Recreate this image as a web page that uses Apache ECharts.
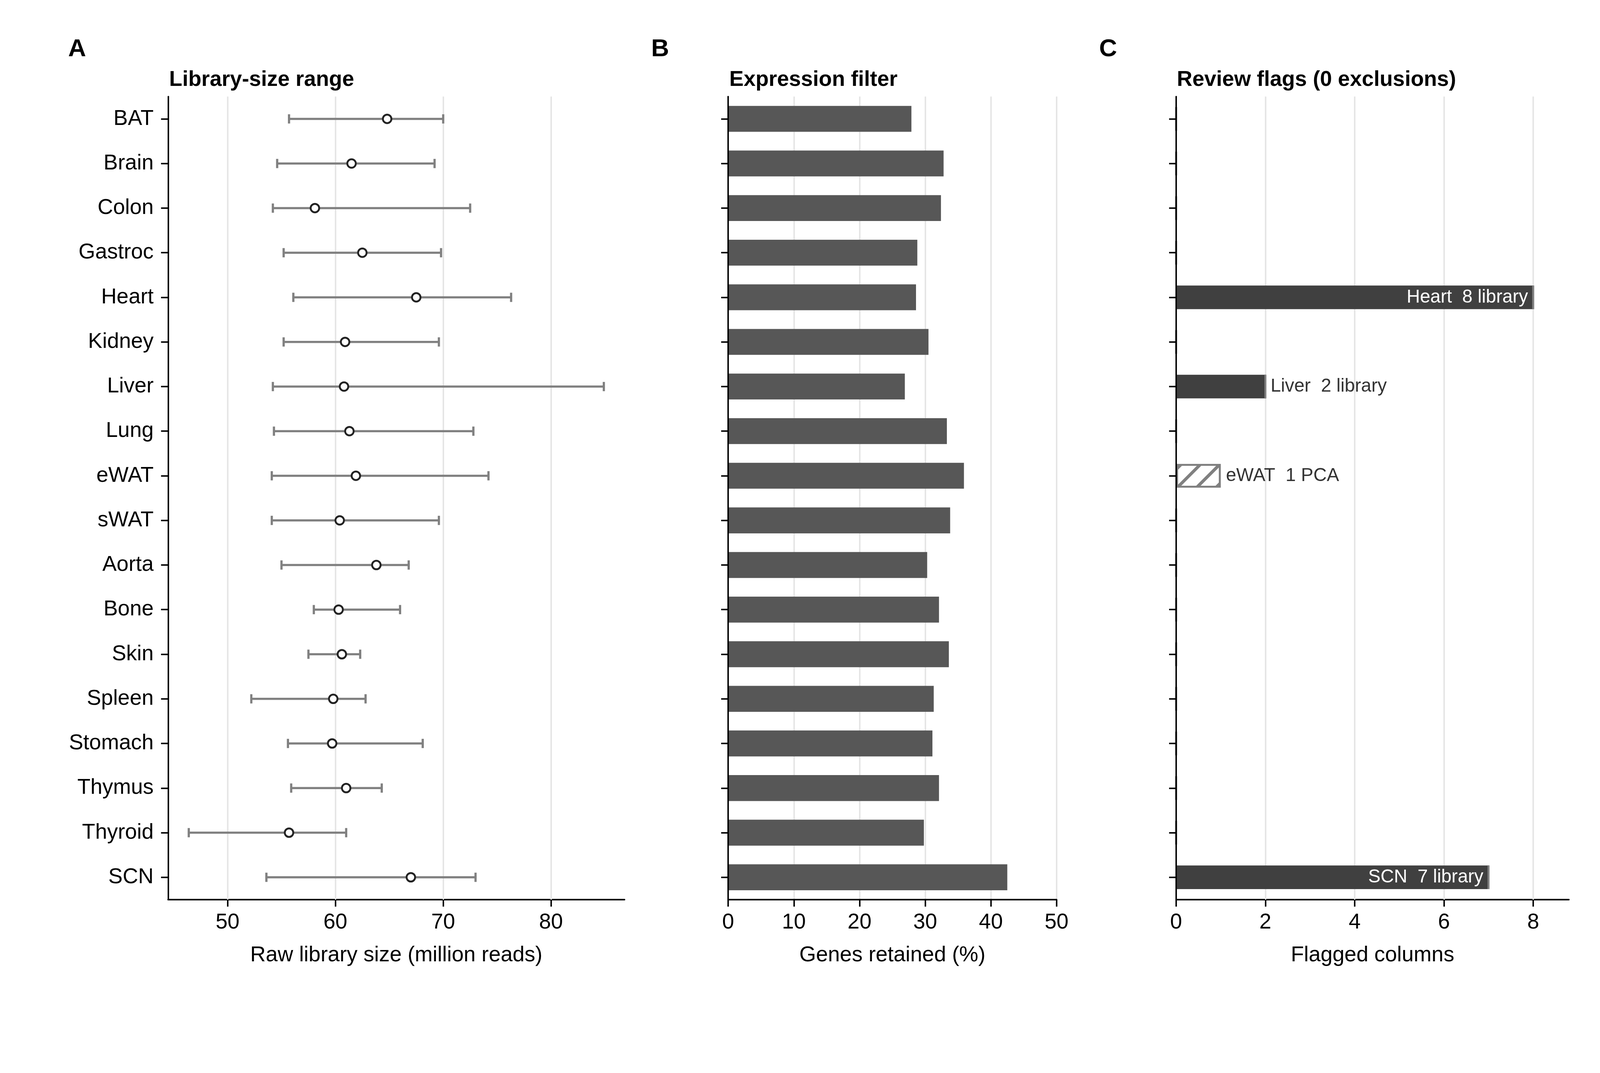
<!DOCTYPE html>
<html>
<head>
<meta charset="utf-8">
<title>Tissue QC summary</title>
<script src="https://cdn.jsdelivr.net/npm/echarts@6/dist/echarts.min.js"></script>
<style>
    html, body { margin: 0; padding: 0; background: #fff; overflow: hidden; }
    #chart { width: 100vw; height: 100vh; }
</style>
</head>
<body>
<div id="chart"></div>
<script>
var tissues = ['BAT', 'Brain', 'Colon', 'Gastroc', 'Heart', 'Kidney', 'Liver', 'Lung', 'eWAT',
    'sWAT', 'Aorta', 'Bone', 'Skin', 'Spleen', 'Stomach', 'Thymus', 'Thyroid', 'SCN'];

// library size, million reads (min / median / max)
var libLow  = [55.7, 54.6, 54.2, 55.2, 56.1, 55.2, 54.2, 54.3, 54.1, 54.1, 55.0, 58.0, 57.5, 52.2, 55.6, 55.9, 46.4, 53.6];
var libMid  = [64.8, 61.5, 58.1, 62.5, 67.5, 60.9, 60.8, 61.3, 61.9, 60.4, 63.8, 60.3, 60.6, 59.8, 59.7, 61.0, 55.7, 67.0];
var libHigh = [70.0, 69.2, 72.5, 69.8, 76.3, 69.6, 84.9, 72.8, 74.2, 69.6, 66.8, 66.0, 62.3, 62.8, 68.1, 64.3, 61.0, 73.0];

// % genes kept after expression filter
var genesRetained = [27.9, 32.8, 32.4, 28.8, 28.6, 30.5, 26.9, 33.3, 35.9, 33.8, 30.3, 32.1, 33.6, 31.3, 31.1, 32.1, 29.8, 42.5];

// flagged columns per tissue
var libraryFlags = [0, 0, 0, 0, 8, 0, 2, 0, 0, 0, 0, 0, 0, 0, 0, 0, 0, 7];
var pcaFlags     = [0, 0, 0, 0, 0, 0, 0, 0, 1, 0, 0, 0, 0, 0, 0, 0, 0, 0];

var ticksA = [50, 60, 70, 80];
var ticksC = [0, 2, 4, 6, 8];

document.addEventListener("DOMContentLoaded", function () {

    var FONT = 'Liberation Sans';
    // layout was measured on a 4322 px wide figure; scale to the real viewport
    var S = Math.min(window.innerWidth / 4322, window.innerHeight / 2748);
    function P(v) { return v * S; }

    var TOP = 261, HEIGHT = 2170;
    var GRID_COLOR = '#e5e5e5';

    var chart = echarts.init(document.getElementById('chart'));

    function flagLabel(v, i, kind) {
        if (!v) return v;
        var inside = v >= 4;
        return {
            value: v,
            label: {
                show: true,
                position: inside ? 'insideRight' : 'right',
                distance: P(14),
                color: inside ? '#fff' : '#333',
                fontSize: P(50),
                fontFamily: FONT,
                formatter: tissues[i] + '  ' + v + ' ' + kind
            }
        };
    }

    function gridLines(values) {
        return {
            silent: true,
            z: 1,
            symbol: 'none',
            label: { show: false },
            emphasis: { disabled: true },
            lineStyle: { color: GRID_COLOR, width: P(4), type: 'solid' },
            data: values.map(function (v) { return { xAxis: v }; })
        };
    }

    function catAxis(idx, showLabels) {
        return {
            type: 'category',
            gridIndex: idx,
            data: tissues,
            inverse: true,
            z: 5,
            axisLine: { show: true, lineStyle: { color: '#000', width: P(4) } },
            axisTick: { show: true, alignWithLabel: true, length: P(19), lineStyle: { color: '#000', width: P(4) } },
            axisLabel: { show: showLabels, fontSize: P(58), color: '#000', margin: P(39), fontFamily: FONT },
            splitLine: { show: false }
        };
    }

    function valAxis(idx, name, ticks, extra) {
        var tick = { show: true, length: P(19), lineStyle: { color: '#000', width: P(4) } };
        var label = { fontSize: P(58), color: '#000', margin: P(33), fontFamily: FONT };
        if (ticks) {
            tick.customValues = ticks;
            label.customValues = ticks;
        }
        return Object.assign({
            type: 'value',
            gridIndex: idx,
            name: name,
            axisLine: { show: true, onZero: false, lineStyle: { color: '#000', width: P(4) } },
            axisTick: tick,
            axisLabel: label,
            nameLocation: 'middle',
            nameGap: P(122),
            nameTextStyle: { fontSize: P(58), color: '#000', fontFamily: FONT }
        }, extra);
    }

    function heading(text, left, top, size) {
        return {
            text: text, left: P(left), top: P(top), padding: 0,
            textStyle: { fontSize: P(size), fontWeight: 'bold', color: '#000', fontFamily: FONT }
        };
    }

    var option = {
        animation: false,
        backgroundColor: '#fff',
        textStyle: { fontFamily: FONT },
        title: [
            heading('A', 184, 100, 67),
            heading('B', 1759, 100, 67),
            heading('C', 2969, 100, 67),
            heading('Library-size range', 457, 187, 58),
            heading('Expression filter', 1970, 187, 58),
            heading('Review flags (0 exclusions)', 3179, 187, 58)
        ],
        grid: [
            { left: P(454), top: P(TOP), width: P(1233), height: P(HEIGHT) },
            { left: P(1967), top: P(TOP), width: P(887), height: P(HEIGHT) },
            { left: P(3177), top: P(TOP), width: P(1061), height: P(HEIGHT) }
        ],
        xAxis: [
            valAxis(0, 'Raw library size (million reads)', ticksA, {
                min: 44.48, max: 86.82,
                splitLine: { show: false }
            }),
            valAxis(1, 'Genes retained (%)', null, {
                min: 0, max: 50, interval: 10,
                splitLine: { show: true, lineStyle: { color: GRID_COLOR, width: P(4) } }
            }),
            valAxis(2, 'Flagged columns', ticksC, {
                min: 0, max: 8.8,
                splitLine: { show: false }
            })
        ],
        yAxis: [catAxis(0, true), catAxis(1, false), catAxis(2, false)],
        series: [
            {
                name: 'gridA',
                type: 'scatter',
                xAxisIndex: 0, yAxisIndex: 0,
                data: [],
                markLine: gridLines(ticksA)
            },
            {
                name: 'Range',
                type: 'custom',
                xAxisIndex: 0, yAxisIndex: 0,
                z: 2,
                encode: { x: [0, 1], y: 2 },
                data: tissues.map(function (t, i) { return [libLow[i], libHigh[i], i]; }),
                renderItem: function (params, api) {
                    var y = api.value(2);
                    var lo = api.coord([api.value(0), y]);
                    var hi = api.coord([api.value(1), y]);
                    var cap = P(12.5);
                    var st = { stroke: '#808080', lineWidth: P(6), fill: null };
                    return {
                        type: 'group',
                        children: [
                            { type: 'line', shape: { x1: lo[0], y1: lo[1], x2: hi[0], y2: hi[1] }, style: st },
                            { type: 'line', shape: { x1: lo[0], y1: lo[1] - cap, x2: lo[0], y2: lo[1] + cap }, style: st },
                            { type: 'line', shape: { x1: hi[0], y1: hi[1] - cap, x2: hi[0], y2: hi[1] + cap }, style: st }
                        ]
                    };
                }
            },
            {
                name: 'Median',
                type: 'scatter',
                xAxisIndex: 0, yAxisIndex: 0,
                z: 3,
                symbol: 'circle',
                symbolSize: P(23),
                itemStyle: { color: '#fff', borderColor: '#222', borderWidth: P(5), opacity: 1 },
                data: tissues.map(function (t, i) { return [libMid[i], i]; })
            },
            {
                name: 'Genes retained',
                type: 'bar',
                xAxisIndex: 1, yAxisIndex: 1,
                barWidth: '58%',
                itemStyle: { color: '#575757' },
                data: genesRetained
            },
            {
                name: 'gridC',
                type: 'scatter',
                xAxisIndex: 2, yAxisIndex: 2,
                data: [],
                markLine: gridLines(ticksC)
            },
            {
                name: 'Library',
                type: 'bar',
                xAxisIndex: 2, yAxisIndex: 2,
                stack: 'flags',
                barWidth: '53%',
                itemStyle: { color: '#404040' },
                data: libraryFlags.map(function (v, i) { return flagLabel(v, i, 'library'); })
            },
            {
                name: 'PCA',
                type: 'bar',
                xAxisIndex: 2, yAxisIndex: 2,
                stack: 'flags',
                barWidth: '53%',
                itemStyle: {
                    color: '#fff',
                    borderColor: '#808080',
                    borderWidth: P(5),
                    decal: {
                        symbol: 'rect',
                        symbolSize: 1,
                        color: '#808080',
                        dashArrayX: [1, 0],
                        dashArrayY: [P(8), P(28)],
                        rotation: -Math.PI / 4
                    }
                },
                data: pcaFlags.map(function (v, i) { return flagLabel(v, i, 'PCA'); })
            }
        ]
    };

    chart.setOption(option);

    window.addEventListener('resize', function () {
        chart.resize();
    });
});
</script>
</body>
</html>
